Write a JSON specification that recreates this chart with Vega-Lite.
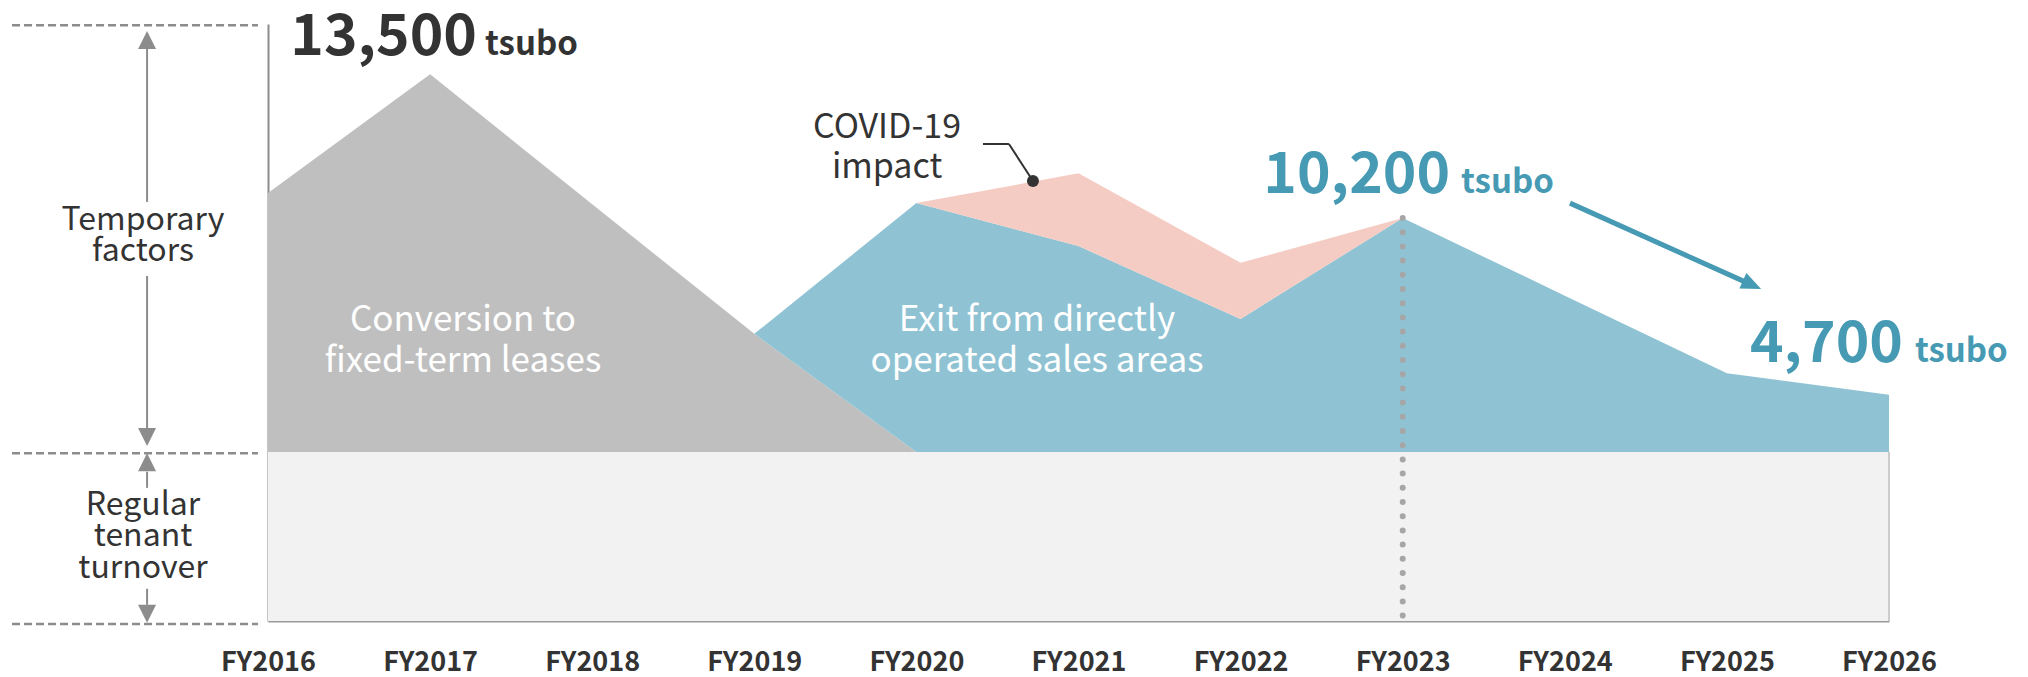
{
  "$schema": "https://vega.github.io/schema/vega-lite/v6.json",
  "width": 1621,
  "height": 597,
  "autosize": {"type": "none"},
  "padding": {"left": 268, "top": 24, "right": 139, "bottom": 56},
  "background": "white",
  "config": {
    "view": {"stroke": null},
    "font": "Noto Sans CJK JP",
    "text": {"font": "Noto Sans CJK JP"}
  },
  "datasets": {
    "areas": [
      {"series": "regular", "year": 2016, "value": 28.3, "value2": 0},
      {"series": "regular", "year": 2026, "value": 28.3, "value2": 0},
      {"series": "conversion", "year": 2016, "value": 71.7, "value2": 28.3},
      {"series": "conversion", "year": 2017, "value": 91.6, "value2": 28.3},
      {"series": "conversion", "year": 2018, "value": 69.8, "value2": 28.3},
      {"series": "conversion", "year": 2019, "value": 48.1, "value2": 28.3},
      {"series": "conversion", "year": 2020, "value": 28.3, "value2": 28.3},
      {"series": "exit", "year": 2019, "value": 48.1, "value2": 48.1},
      {"series": "exit", "year": 2020, "value": 70.0, "value2": 28.3},
      {"series": "exit", "year": 2021, "value": 62.8, "value2": 28.3},
      {"series": "exit", "year": 2022, "value": 50.6, "value2": 28.3},
      {"series": "exit", "year": 2023, "value": 67.5, "value2": 28.3},
      {"series": "exit", "year": 2024, "value": 54.5, "value2": 28.3},
      {"series": "exit", "year": 2025, "value": 41.5, "value2": 28.3},
      {"series": "exit", "year": 2026, "value": 37.9, "value2": 28.3},
      {"series": "covid", "year": 2020, "value": 70.0, "value2": 70.0},
      {"series": "covid", "year": 2021, "value": 75.0, "value2": 62.8},
      {"series": "covid", "year": 2022, "value": 60.0, "value2": 50.6},
      {"series": "covid", "year": 2023, "value": 67.5, "value2": 67.5}
    ],
    "segs": [
      {"kind": "dash", "year": 2014.421, "year2": 2015.938, "value": 99.8, "value2": 99.8},
      {"kind": "dash", "year": 2014.421, "year2": 2015.938, "value": 28.1, "value2": 28.1},
      {"kind": "dash", "year": 2014.421, "year2": 2015.938, "value": -0.5, "value2": -0.5},
      {"kind": "shaft", "year": 2015.254, "year2": 2015.254, "value": 96.0, "value2": 70.2},
      {"kind": "shaft", "year": 2015.254, "year2": 2015.254, "value": 57.8, "value2": 32.3},
      {"kind": "shaft", "year": 2015.254, "year2": 2015.254, "value": 25.0, "value2": 22.3},
      {"kind": "shaft", "year": 2015.254, "year2": 2015.254, "value": 5.4, "value2": 2.7},
      {"kind": "leader", "year": 2020.411, "year2": 2020.571, "value": 79.9, "value2": 79.9},
      {"kind": "leader", "year": 2020.571, "year2": 2020.719, "value": 79.9, "value2": 73.7},
      {"kind": "trend", "year": 2024.032, "year2": 2025.112, "value": 70.0, "value2": 56.8},
      {"kind": "dotted", "year": 2023, "year2": 2023, "value": 67.5, "value2": 0.7},
      {"kind": "edge", "year": 2026, "year2": 2026, "value": 28.3, "value2": 0}
    ],
    "points": [
      {"kind": "up", "year": 2015.254, "value": 97.3},
      {"kind": "up", "year": 2015.254, "value": 26.6},
      {"kind": "down", "year": 2015.254, "value": 30.8},
      {"kind": "down", "year": 2015.254, "value": 1.2},
      {"kind": "dot", "year": 2020.719, "value": 73.7},
      {"kind": "head", "year": 2025.155, "value": 56.3}
    ],
    "labels": [
      {"role": "big", "kind": "actual", "text": "13,500", "year": 2017.289, "value": 94.8},
      {"role": "big", "kind": "plan", "text": "10,200", "year": 2023.292, "value": 71.7},
      {"role": "big", "kind": "plan", "text": "4,700", "year": 2026.086, "value": 43.4},
      {"role": "unit", "kind": "actual", "text": "tsubo", "year": 2017.339, "value": 94.8},
      {"role": "unit", "kind": "plan", "text": "tsubo", "year": 2023.360, "value": 71.7},
      {"role": "unit", "kind": "plan", "text": "tsubo", "year": 2026.160, "value": 43.4},
      {"role": "note", "text": "COVID-19\nimpact", "year": 2019.819, "value": 80.9},
      {"role": "inside", "text": "Conversion to\nfixed-term leases", "year": 2017.203, "value": 48.6},
      {"role": "inside", "text": "Exit from directly\noperated sales areas", "year": 2020.744, "value": 48.6},
      {"role": "side", "kind": "temp", "text": "Temporary\nfactors", "year": 2015.229, "value": 65.5},
      {"role": "side", "kind": "reg", "text": "Regular\ntenant\nturnover", "year": 2015.229, "value": 17.8}
    ]
  },
  "encoding": {
    "x": {
      "field": "year", "type": "quantitative", "title": null,
      "scale": {"domain": [2016, 2026], "nice": false, "zero": false},
      "axis": {
        "values": [2016, 2017, 2018, 2019, 2020, 2021, 2022, 2023, 2024, 2025, 2026],
        "labelExpr": "'FY' + datum.value",
        "ticks": false, "grid": false,
        "domainColor": "#9a9a9a", "domainWidth": 2,
        "labelFont": "Noto Sans CJK JP", "labelFontSize": 27, "labelFontWeight": "bold",
        "labelColor": "#333333", "labelPadding": 28, "labelFlush": false, "labelOverlap": false
      }
    },
    "y": {
      "field": "value", "type": "quantitative", "title": null,
      "scale": {"domain": [0, 100], "nice": false, "zero": false},
      "axis": {"ticks": false, "labels": false, "grid": false, "domainColor": "#8c8c8c", "domainWidth": 2}
    }
  },
  "layer": [
    {"data": {"name": "areas"}, "transform": [{"filter": "datum.series === 'regular'"}],
     "mark": {"type": "area", "color": "#f2f2f2", "opacity": 1}, "encoding": {"y2": {"field": "value2"}}},
    {"data": {"name": "areas"}, "transform": [{"filter": "datum.series === 'conversion'"}],
     "mark": {"type": "area", "color": "#bfbfbf", "opacity": 1}, "encoding": {"y2": {"field": "value2"}}},
    {"data": {"name": "areas"}, "transform": [{"filter": "datum.series === 'exit'"}],
     "mark": {"type": "area", "color": "#8fc3d3", "opacity": 1}, "encoding": {"y2": {"field": "value2"}}},
    {"data": {"name": "areas"}, "transform": [{"filter": "datum.series === 'covid'"}],
     "mark": {"type": "area", "color": "#f5ccc3", "opacity": 1}, "encoding": {"y2": {"field": "value2"}}},
    {"data": {"name": "segs"}, "transform": [{"filter": "datum.kind === 'edge'"}],
     "mark": {"type": "rule", "color": "#cccccc", "strokeWidth": 2},
     "encoding": {"x2": {"field": "year2"}, "y2": {"field": "value2"}}},
    {"data": {"name": "segs"}, "transform": [{"filter": "datum.kind === 'dotted'"}],
     "mark": {"type": "rule", "color": "#a6a6a6", "strokeWidth": 6, "strokeCap": "round", "strokeDash": [0, 14.2]},
     "encoding": {"x2": {"field": "year2"}, "y2": {"field": "value2"}}},
    {"data": {"name": "segs"}, "transform": [{"filter": "datum.kind === 'dash'"}],
     "mark": {"type": "rule", "color": "#8c8c8c", "strokeWidth": 2.5, "strokeDash": [8, 4]},
     "encoding": {"x2": {"field": "year2"}, "y2": {"field": "value2"}}},
    {"data": {"name": "segs"}, "transform": [{"filter": "datum.kind === 'shaft'"}],
     "mark": {"type": "rule", "color": "#8c8c8c", "strokeWidth": 2},
     "encoding": {"x2": {"field": "year2"}, "y2": {"field": "value2"}}},
    {"data": {"name": "segs"}, "transform": [{"filter": "datum.kind === 'leader'"}],
     "mark": {"type": "rule", "color": "#333333", "strokeWidth": 2},
     "encoding": {"x2": {"field": "year2"}, "y2": {"field": "value2"}}},
    {"data": {"name": "segs"}, "transform": [{"filter": "datum.kind === 'trend'"}],
     "mark": {"type": "rule", "color": "#479ab3", "strokeWidth": 5},
     "encoding": {"x2": {"field": "year2"}, "y2": {"field": "value2"}}},
    {"data": {"name": "points"}, "transform": [{"filter": "datum.kind === 'up'"}],
     "mark": {"type": "point", "shape": "M0,-1L1,1L-1,1Z", "size": 324, "filled": true, "color": "#8c8c8c", "opacity": 1}},
    {"data": {"name": "points"}, "transform": [{"filter": "datum.kind === 'down'"}],
     "mark": {"type": "point", "shape": "M0,1L1,-1L-1,-1Z", "size": 324, "filled": true, "color": "#8c8c8c", "opacity": 1}},
    {"data": {"name": "points"}, "transform": [{"filter": "datum.kind === 'dot'"}],
     "mark": {"type": "point", "shape": "circle", "size": 144, "filled": true, "color": "#333333", "opacity": 1}},
    {"data": {"name": "points"}, "transform": [{"filter": "datum.kind === 'head'"}],
     "mark": {"type": "point", "shape": "M1,0L-1,-0.85L-1,0.85Z", "size": 400, "angle": 24.2, "filled": true, "color": "#479ab3", "opacity": 1}},
    {"data": {"name": "labels"}, "transform": [{"filter": "datum.role === 'big'"}],
     "mark": {"type": "text", "align": "right", "baseline": "alphabetic", "fontSize": 57, "fontWeight": "bold"},
     "encoding": {"text": {"field": "text"}, "color": {"field": "kind", "type": "nominal", "legend": null, "scale": {"domain": ["actual", "plan"], "range": ["#333333", "#479ab3"]}}}},
    {"data": {"name": "labels"}, "transform": [{"filter": "datum.role === 'unit'"}],
     "mark": {"type": "text", "align": "left", "baseline": "alphabetic", "fontSize": 33, "fontWeight": "bold"},
     "encoding": {"text": {"field": "text"}, "color": {"field": "kind", "type": "nominal", "legend": null}}},
    {"data": {"name": "labels"}, "transform": [{"filter": "datum.role === 'note'"}],
     "mark": {"type": "text", "align": "center", "baseline": "alphabetic", "fontSize": 34, "lineBreak": "\n", "lineHeight": 40, "color": "#333333"},
     "encoding": {"text": {"field": "text"}}},
    {"data": {"name": "labels"}, "transform": [{"filter": "datum.role === 'inside'"}],
     "mark": {"type": "text", "align": "center", "baseline": "alphabetic", "fontSize": 35, "lineBreak": "\n", "lineHeight": 41, "color": "#ffffff"},
     "encoding": {"text": {"field": "text"}}},
    {"data": {"name": "labels"}, "transform": [{"filter": "datum.role === 'side'"}],
     "mark": {"type": "text", "align": "center", "baseline": "alphabetic", "fontSize": 32, "lineBreak": "\n", "lineHeight": 31.5, "color": "#333333"},
     "encoding": {"text": {"field": "text"}}}
  ]
}
